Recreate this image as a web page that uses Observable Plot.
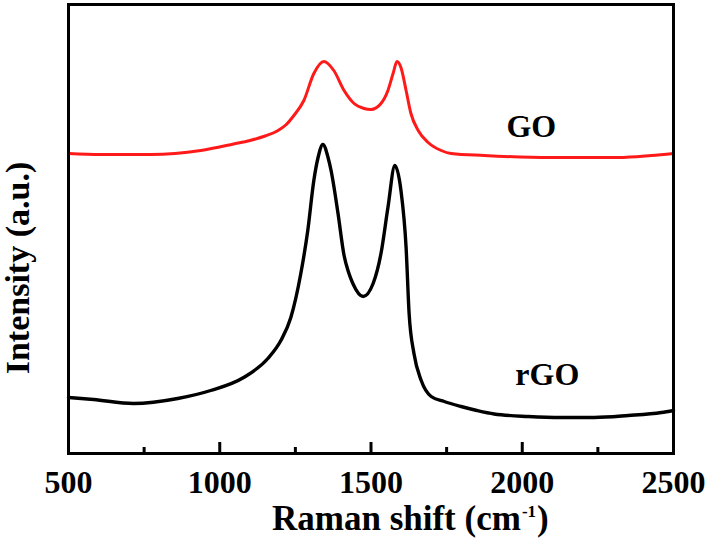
<!DOCTYPE html>
<html>
<head>
<meta charset="utf-8">
<script src="https://cdn.jsdelivr.net/npm/d3@7"></script>
<script src="https://cdn.jsdelivr.net/npm/@observablehq/plot@0.6"></script>
<style>
  html, body { margin: 0; padding: 0; background: #fff; }
</style>
</head>
<body>
<div id="chart"></div>
<script>
// Raman shift (cm^-1) and intensity (a.u.)
const goShift = [500, 606, 772, 937, 1046, 1100, 1150, 1190, 1220, 1245, 1278, 1311, 1344, 1377, 1411, 1444, 1477, 1500, 1533, 1556, 1573, 1586, 1599, 1616, 1632, 1656, 1689, 1732, 1765, 1874, 2096, 2318, 2427, 2500];
const goIntensity = [300, 299, 299, 303, 309.5, 313, 317.5, 322.5, 329, 338, 353, 380, 392, 383, 363, 350, 345, 344, 350, 363, 380, 392, 386, 363, 340, 323, 311, 303, 300, 298, 296, 296, 298, 300];

const rgoShift = [500, 583, 715, 861, 970, 1079, 1159, 1202, 1235, 1268, 1291, 1311, 1325, 1341, 1358, 1368, 1391, 1411, 1425, 1440, 1474, 1507, 1533, 1556, 1579, 1599, 1616, 1626, 1642, 1666, 1699, 1742, 1798, 1850, 1907, 2020, 2129, 2238, 2351, 2460, 2500];
const rgoIntensity = [56, 54, 50, 55, 63, 76, 95, 113, 136, 180, 223, 273, 296, 309, 296, 283, 240, 198, 182, 170, 157, 170, 200, 246, 288, 263, 206, 140, 100, 73, 57, 52, 47, 43, 39.5, 37, 36, 36, 38, 41, 43];

const majorTicks = [500, 1000, 1500, 2000, 2500];
const minorTicks = [750, 1250, 1750, 2250];

const labelText = ["GO", "rGO"];
const labelShift = [2030, 2083];
const labelIntensity = [327, 79];

const goData = goShift.map((x, i) => ({x, y: goIntensity[i]}));
const rgoData = rgoShift.map((x, i) => ({x, y: rgoIntensity[i]}));
const labels = labelText.map((t, i) => ({t, x: labelShift[i], y: labelIntensity[i]}));

const font = "'Liberation Serif', 'Times New Roman', serif";

const plot = Plot.plot({
  width: 709,
  height: 540,
  marginLeft: 68,
  marginRight: 36,
  marginTop: 4,
  marginBottom: 87,
  style: {fontFamily: font, background: "#fff"},
  x: {domain: [500, 2500], axis: null},
  y: {domain: [0, 449], axis: null},
  marks: [
    Plot.line(goData, {x: "x", y: "y", stroke: "#ff1a1a", strokeWidth: 3, curve: "monotone-x"}),
    Plot.line(rgoData, {x: "x", y: "y", stroke: "#000", strokeWidth: 3.4, curve: "monotone-x"}),
    Plot.text(labels, {x: "x", y: "y", text: "t", fontSize: 32, fontWeight: "bold", fontFamily: font, fill: "#000", textAnchor: "middle"}),
    // inward ticks (1 y-unit = 1 px in this chart)
    Plot.ruleX(majorTicks, {y1: 0, y2: 11, stroke: "#000", strokeWidth: 3}),
    Plot.ruleX(minorTicks, {y1: 0, y2: 6, stroke: "#000", strokeWidth: 3}),
    Plot.axisX(majorTicks, {anchor: "bottom", tickSize: 0, tickPadding: 17, tickFormat: "d", fontSize: 32, fontWeight: "bold", fontFamily: font, fill: "#000", label: null}),
    Plot.frame({stroke: "#000", strokeWidth: 3})
  ]
});

document.getElementById("chart").appendChild(plot);

const svg = d3.select(plot);
const titleStyle = sel => sel
  .attr("text-anchor", "start")
  .attr("font-family", font).attr("font-weight", "bold")
  .attr("fill", "#000");

const t1 = svg.append("text").call(titleStyle)
  .attr("x", 272).attr("y", 530).attr("font-size", 35)
  .text("Raman shift (cm");
const w1 = t1.node().getComputedTextLength();
const t2 = svg.append("text").call(titleStyle)
  .attr("x", 272 + w1 + 1).attr("y", 517).attr("font-size", 17)
  .text("-1");
const w2 = t2.node().getComputedTextLength();
svg.append("text").call(titleStyle)
  .attr("x", 272 + w1 + w2 + 2).attr("y", 530).attr("font-size", 35)
  .text(")");

svg.append("text")
  .attr("transform", "translate(29,268) rotate(-90)")
  .attr("text-anchor", "middle")
  .attr("font-family", font).attr("font-size", 34).attr("font-weight", "bold")
  .attr("fill", "#000")
  .text("Intensity (a.u.)");
</script>
</body>
</html>
